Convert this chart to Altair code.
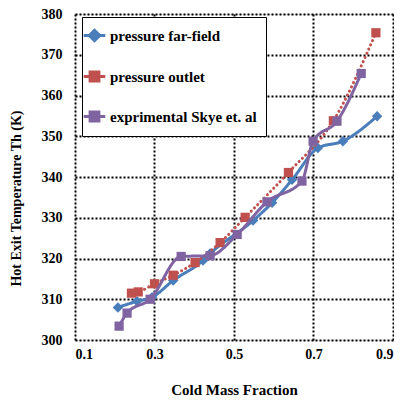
import altair as alt
import pandas as pd

# Series: pressure far-field
ff_x = [0.208, 0.256, 0.294, 0.347, 0.422, 0.440, 0.548, 0.596, 0.646, 0.711, 0.774, 0.860]
ff_y = [308.0, 309.5, 310.5, 314.6, 319.5, 321.2, 329.3, 333.7, 339.3, 347.1, 348.8, 354.9]
# Series: pressure outlet
po_x = [0.242, 0.259, 0.300, 0.347, 0.402, 0.465, 0.528, 0.637, 0.750, 0.857]
po_y = [311.5, 311.8, 313.8, 315.9, 319.0, 323.9, 330.1, 341.1, 353.8, 375.4]
# Series: experimental
ex_x = [0.211, 0.231, 0.289, 0.367, 0.440, 0.508, 0.583, 0.671, 0.699, 0.759, 0.820]
ex_y = [303.4, 306.6, 310.0, 320.5, 320.7, 325.9, 333.9, 339.0, 348.8, 353.7, 365.4]

names = ["pressure far-field", "pressure outlet", "exprimental Skye et. al"]
colors = ["#4A7EBB", "#C0504D", "#8064A2"]
shapes = ["diamond", "square", "square"]

rows = []
for i, (xs, ys) in enumerate([(ff_x, ff_y), (po_x, po_y), (ex_x, ex_y)]):
    for x, y in zip(xs, ys):
        rows.append({"x": x, "y": y, "series": names[i]})
df = pd.DataFrame(rows)

FONT = "Liberation Serif"

xs = alt.Scale(domain=[0.1, 0.9], nice=False)
ys = alt.Scale(domain=[300, 380], nice=False)
col = alt.Scale(domain=names, range=colors)

diamond_path = "M-2.1,0H0.6M-0.75,-0.65L-0.1,0L-0.75,0.65L-1.4,0Z"
square_path = "M-2.1,0H0.6M-1.3,-0.55H-0.2V0.55H-1.3Z"
shp = alt.Scale(domain=names, range=[diamond_path, square_path, square_path])

legend = alt.Legend(
    title=None,
    orient="none",
    legendX=7,
    legendY=3,
    padding=9,
    fillColor="white",
    strokeColor="black",
    symbolSize=256,
    symbolStrokeWidth=3,
    symbolOpacity=1,
    labelFont=FONT,
    labelFontWeight="bold",
    labelFontSize=15,
    labelColor="black",
    labelOffset=0,
    rowPadding=19,
    labelLimit=300,
)

xaxis = alt.Axis(
    values=[0.1, 0.3, 0.5, 0.7, 0.9],
    format=".1f",
    title="Cold Mass Fraction",
    grid=True,
    gridColor="black",
    gridDash=[2, 2],
    gridWidth=2,
    gridOpacity=1,
    domain=False,
    ticks=False,
    labelPadding=7,
    labelFont=FONT,
    labelFontWeight="bold",
    labelFontSize=14,
    labelColor="black",
    titleFont=FONT,
    titleFontWeight="bold",
    titleFontSize=15,
    titleColor="black",
    titleBaseline="top",
    titleY=42,
)
yaxis = alt.Axis(
    values=[300, 310, 320, 330, 340, 350, 360, 370, 380],
    title="Hot Exit Temperature Th (K)",
    grid=True,
    gridColor="black",
    gridDash=[2, 2],
    gridWidth=2,
    gridOpacity=1,
    domain=False,
    ticks=False,
    labelPadding=13,
    labelFont=FONT,
    labelFontWeight="bold",
    labelFontSize=14,
    labelColor="black",
    titleFont=FONT,
    titleFontWeight="bold",
    titleFontSize=14,
    titleColor="black",
    titleX=-52,
    titleY=184,
)

base = alt.Chart(df)

layers = []
for i, name in enumerate(names):
    sub = base.transform_filter(alt.datum.series == name)
    dash = [0.1, 4.5] if i == 1 else [1, 0]
    ln = sub.mark_line(
        strokeWidth=3, strokeDash=dash, strokeCap="round", interpolate="monotone"
    ).encode(
        x=alt.X("x:Q", scale=xs, axis=xaxis),
        y=alt.Y("y:Q", scale=ys, axis=yaxis),
        color=alt.Color("series:N", scale=col, legend=legend if i == 0 else None),
    )
    pt = sub.mark_point(
        filled=True, opacity=1, shape=shapes[i], size=110 if i == 0 else 85
    ).encode(
        x=alt.X("x:Q", scale=xs),
        y=alt.Y("y:Q", scale=ys),
        color=alt.Color("series:N", scale=col, legend=None),
    )
    layers += [ln, pt]

# legend helper layer: zero-size marks; legend symbols carry line + marker
leg = base.mark_point(filled=True, opacity=1, size=0).encode(
    x=alt.X("x:Q", scale=xs),
    y=alt.Y("y:Q", scale=ys),
    fill=alt.Fill("series:N", scale=col, legend=legend),
    shape=alt.Shape("series:N", scale=shp, legend=legend),
)
layers.append(leg)

chart = alt.layer(*layers).properties(
    width=318,
    height=326,
    autosize=alt.AutoSizeParams(type="none"),
    padding={"left": 67, "top": 6, "right": 1, "bottom": 56},
).configure_view(
    stroke="black", strokeWidth=2, strokeDash=[2, 2]
).configure_legend(
    strokeWidth=2
).configure(background="white")

chart.save("out.html", embed_options={"renderer": "svg", "actions": False})
